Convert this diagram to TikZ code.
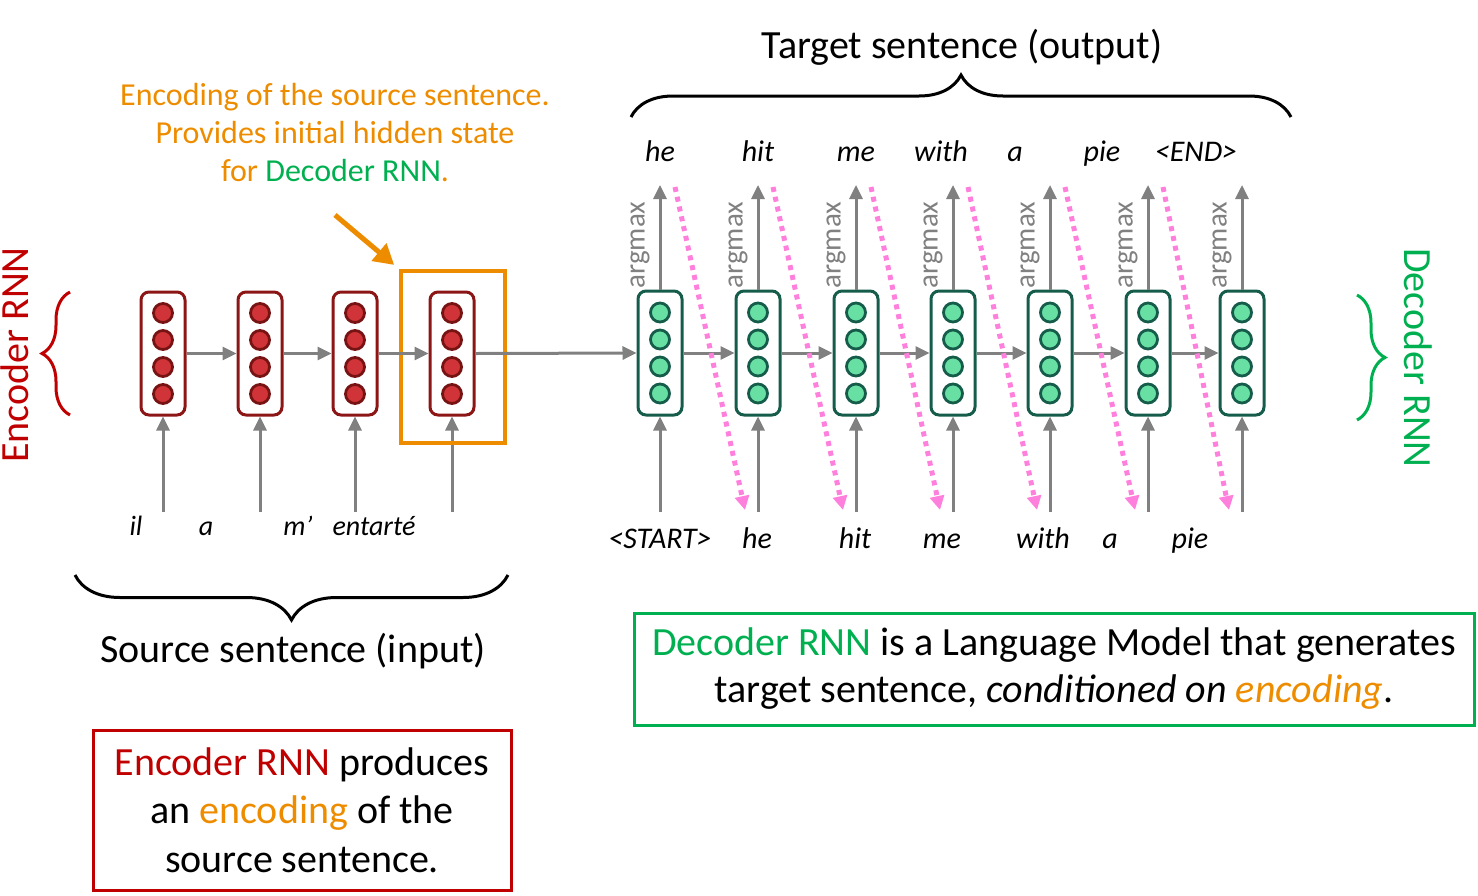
\documentclass[tikz,border=0pt]{standalone}
\usepackage{fontspec}
\setmainfont{Carlito}
\usepackage{tikz}
\usetikzlibrary{positioning,calc,arrows.meta,decorations.pathreplacing}

\definecolor{encred}{RGB}{192,0,0}
\definecolor{encdark}{RGB}{140,22,22}
\definecolor{encfill}{RGB}{208,52,56}
\definecolor{decgreen}{RGB}{0,176,80}
\definecolor{decdark}{RGB}{22,92,74}
\definecolor{decfill}{RGB}{104,224,164}
\definecolor{encorange}{RGB}{238,140,0}
\definecolor{feedpink}{RGB}{255,128,220}
\definecolor{flowgray}{RGB}{128,128,128}

\tikzset{
	enccell/.style={draw=encdark,line width=1.5pt,rounded corners=4pt,minimum width=22pt,minimum height=61.5pt,inner sep=0pt},
	deccell/.style={draw=decdark,line width=1.5pt,rounded corners=4pt,minimum width=22pt,minimum height=62pt,inner sep=0pt},
	encdot/.style={circle,draw=encdark!85!black,fill=encfill,line width=1.4pt,minimum size=9.5pt,inner sep=0pt},
	decdot/.style={circle,draw=decdark,fill=decfill,line width=1.4pt,minimum size=9.5pt,inner sep=0pt},
	flow/.style={draw=flowgray,line width=1.5pt,-{Triangle[length=7pt,width=6.5pt]}},
	feed/.style={draw=feedpink,line width=2.5pt,dash pattern=on 2.5pt off 2.5pt,-{Triangle[length=7pt,width=7pt]}},
	word/.style={font=\fontsize{15}{18}\selectfont\itshape,text height=11pt,text depth=3pt},
	srcword/.style={font=\fontsize{14}{17}\selectfont\itshape,text height=10pt,text depth=3pt},
	argtext/.style={font=\fontsize{14.5}{16}\selectfont,text=flowgray,rotate=90},
	bigtext/.style={font=\fontsize{20}{24}\selectfont},
	rnnbrace/.style={decorate,line width=1.5pt}
}

\begin{document}
\begin{tikzpicture}[x=0.5pt,y=-0.5pt]
		\useasboundingbox (0,0) rectangle (1478,895);
		% encoder cells
		\foreach \x [count=\i] in {163,260,355,452}{
			\node[enccell] (enc\i) at (\x,353.5) {};
			\foreach \k in {1,...,4}
				\node[encdot] at ($(enc\i.center)+(0,{(\k-2.5)*27})$) {};
			\coordinate (src\i) at (\x,512);
			\draw[flow] (src\i)--(enc\i.south);
		}
		\node[draw=encorange,line width=2.2pt,minimum width=52pt,minimum height=86pt] (encbox) at (453,357) {};
		% decoder cells
		\foreach \x [count=\i] in {660,758,856,953,1050,1148,1242}{
			\node[deccell] (dec\i) at (\x,353) {};
			\foreach \k in {1,...,4}
				\node[decdot] at ($(dec\i.center)+(0,{(\k-2.5)*27})$) {};
			\coordinate (in\i) at (\x,512);
			\coordinate (out\i) at (\x,185);
			\draw[flow] (in\i)--(dec\i.south);
			\draw[flow] (dec\i.north)--(out\i);
			\node[argtext] (arg\i) at (\x-20,245) {argmax};
		}
		% recurrence
		\draw[flow] (enc1.east)--(enc2.west);
		\draw[flow] (enc2.east)--(enc3.west);
		\draw[flow] (enc3.east)--(enc4.west);
		\draw[flow] (enc4.east)--(dec1.west);
		\foreach \i [evaluate=\i as \j using int(\i+1)] in {1,...,6}{
			\draw[flow] (dec\i.east)--(dec\j.west);
			\draw[feed] ($(out\i)+(15,2)$)--($(in\j)+(-13,-2)$);
		}

		% words
		\node[srcword] (w1) at (136,528) {il};
		\node[srcword] (w2) at (206,528) {a};
		\node[srcword] (w3) at (298,528) {m’};
		\node[srcword] (w4) at (374,528) {entarté};
		\node[word] (x1) at (660,540) {<START>};
		\node[word] (x2) at (757,540) {he};
		\node[word] (x3) at (855,540) {hit};
		\node[word] (x4) at (942,540) {me};
		\node[word] (x5) at (1043,540) {with};
		\node[word] (x6) at (1110,540) {a};
		\node[word] (x7) at (1190,540) {pie};
		\node[word] (y1) at (660,153) {he};
		\node[word] (y2) at (758,153) {hit};
		\node[word] (y3) at (856,153) {me};
		\node[word] (y4) at (941,153) {with};
		\node[word] (y5) at (1015,153) {a};
		\node[word] (y6) at (1102,153) {pie};
		\node[word] (y7) at (1196,153) {<END>};

		% braces and titles
		\draw[rnnbrace,decoration={brace,amplitude=21pt}] (631,117)--(1291,117);
		\node[bigtext] (tgt) at (962,47) {Target sentence (output)};
		\draw[rnnbrace,decoration={brace,amplitude=22.5pt}] (508,575)--(75,575);
		\node[bigtext] (src) at (293,651) {Source sentence (input)};
		\draw[rnnbrace,draw=encred,decoration={brace,amplitude=14pt}] (70,415)--(70,292);
		\node[bigtext,text=encred,rotate=90] (enclabel) at (15,355) {Encoder RNN};
		\draw[rnnbrace,draw=decgreen,decoration={brace,amplitude=14pt}] (1357,295)--(1357,420);
		\node[bigtext,text=decgreen,rotate=-90] (declabel) at (1418,358) {Decoder RNN};

		% notes
		\node[font=\fontsize{16}{19}\selectfont,text=encorange,align=center] (encnote) at (335,133)
			{Encoding of the source sentence.\\ Provides initial hidden state\\ for {\color{decgreen}Decoder RNN}.};
		\coordinate (notefrom) at (335,215);
		\draw[encorange,line width=2.5pt,-{Triangle[length=10pt,width=11pt]},shorten >=3pt] (notefrom)--(encbox.north west);
		\node[draw=decgreen,line width=1.5pt,minimum width=420pt,minimum height=56pt,inner sep=2pt,align=center,font=\fontsize{20}{23.5}\selectfont] (decnote) at (1054,669)
			{{\color{decgreen}Decoder RNN} is a Language Model that generates\\ target sentence, \textit{conditioned on {\color{encorange}encoding}}.};
		\node[draw=encred,line width=1.5pt,minimum width=209pt,minimum height=80pt,inner sep=2pt,align=center,font=\fontsize{20}{24.25}\selectfont] (encnotebox) at (302,810)
			{{\color{encred}Encoder RNN} produces\\ an {\color{encorange}encoding} of the\\ source sentence.};
	\end{tikzpicture}
\end{document}
